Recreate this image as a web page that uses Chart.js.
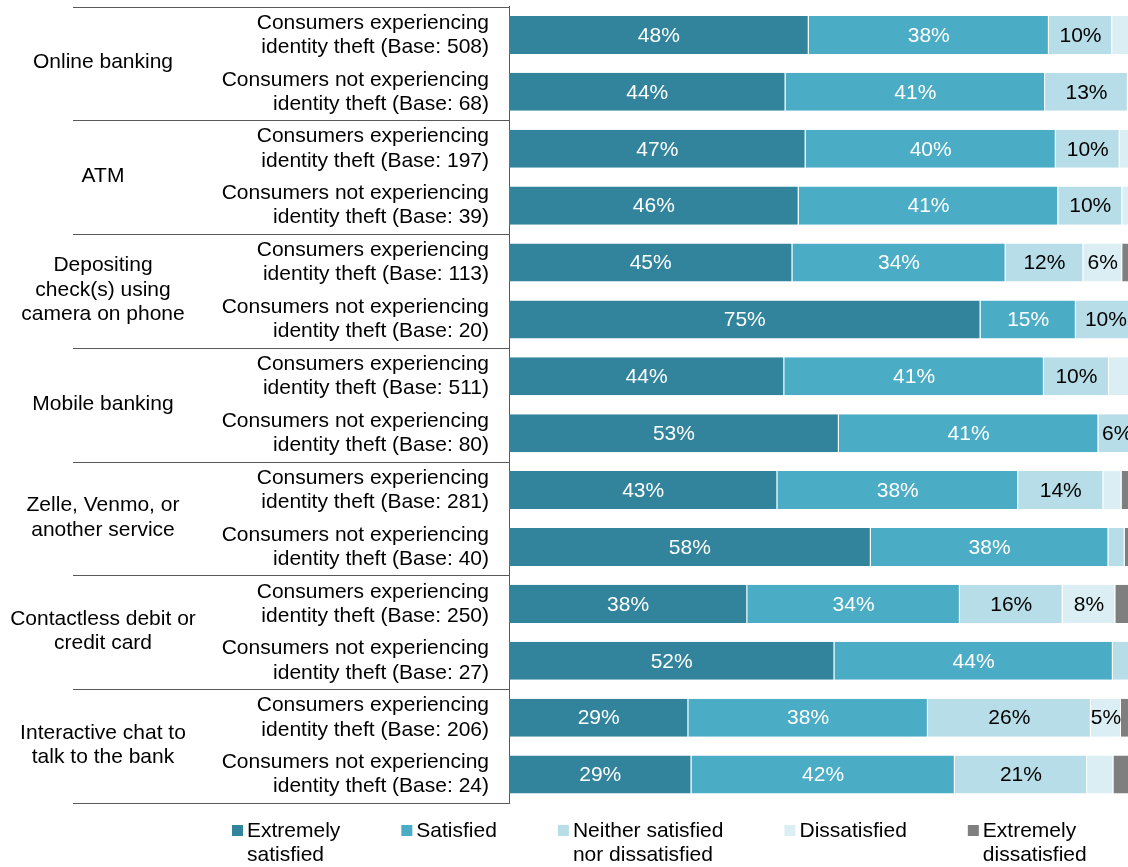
<!DOCTYPE html>
<html>
<head>
<meta charset="utf-8">
<script src="https://cdn.jsdelivr.net/npm/chart.js@4/dist/chart.umd.min.js"></script>
<style>
  html, body { margin: 0; padding: 0; background: #fff; overflow: hidden; }
  #wrap { position: relative; width: 1140px; height: 867px; }
</style>
</head>
<body>
<div id="wrap"><canvas id="chart" width="1140" height="867"></canvas></div>
<script>
// Banking channels (each has two rows: with / without identity theft)
const channels = [
  ['Online banking'],
  ['ATM'],
  ['Depositing', 'check(s) using', 'camera on phone'],
  ['Mobile banking'],
  ['Zelle, Venmo, or', 'another service'],
  ['Contactless debit or', 'credit card'],
  ['Interactive chat to', 'talk to the bank']
];

// Sample sizes: [experiencing identity theft, not experiencing identity theft]
const baseSizes = [
  [508, 68],
  [197, 39],
  [113, 20],
  [511, 80],
  [281, 40],
  [250, 27],
  [206, 24]
];

// Share of respondents (%) per row, top to bottom
const extremelySatisfied    = [47.8, 44.1, 47.3, 46.2, 45.2, 75.2, 43.9, 52.6, 42.8, 57.7, 38.0, 51.9, 28.6, 29.1];
const satisfied             = [38.3, 41.4, 39.9, 41.4, 34.0, 15.2, 41.4, 41.4, 38.4, 37.9, 33.9, 44.4, 38.2, 42.0];
const neitherSatisfied      = [10.1, 13.2, 10.2, 10.2, 12.4,  9.6, 10.4,  6.0, 13.6,  2.6, 16.4,  3.7, 26.0, 21.1];
const dissatisfied          = [ 3.8,  1.3,  2.6,  2.2,  6.2,  0.0,  4.3,  0.0,  2.9,  0.0,  8.4,  0.0,  4.8,  4.2];
const extremelyDissatisfied = [ 0.0,  0.0,  0.0,  0.0,  2.2,  0.0,  0.0,  0.0,  2.3,  1.8,  3.3,  0.0,  2.4,  3.6];

const seriesNames = ['Extremely satisfied', 'Satisfied', 'Neither satisfied nor dissatisfied', 'Dissatisfied', 'Extremely dissatisfied'];
const legendLines = [['Extremely', 'satisfied'], ['Satisfied'], ['Neither satisfied', 'nor dissatisfied'], ['Dissatisfied'], ['Extremely', 'dissatisfied']];
const seriesColors = ['#31849b', '#4bacc6', '#b7dee8', '#daeef3', '#7f7f7f'];
const labelColors = ['#ffffff', '#ffffff', '#000000', '#000000', '#000000'];
const seriesValues = [extremelySatisfied, satisfied, neitherSatisfied, dissatisfied, extremelyDissatisfied];

// Row labels built from the base sizes
const rowLabels = [];
baseSizes.forEach(([withTheft, withoutTheft]) => {
  rowLabels.push(['Consumers experiencing', 'identity theft (Base: ' + withTheft + ')']);
  rowLabels.push(['Consumers not experiencing', 'identity theft (Base: ' + withoutTheft + ')']);
});

const FONT = "'Liberation Sans', Arial, Helvetica, sans-serif";
const FONT_SIZE = 21;
const LINE_COLOR = '#595959';

// Percent labels centred in each segment (shown when the rounded value is 5% or more)
const segmentLabels = {
  id: 'segmentLabels',
  afterDatasetsDraw(chart) {
    const ctx = chart.ctx;
    ctx.save();
    ctx.font = FONT_SIZE + 'px ' + FONT;
    ctx.textAlign = 'center';
    ctx.textBaseline = 'middle';
    chart.data.datasets.forEach((ds, i) => {
      const meta = chart.getDatasetMeta(i);
      meta.data.forEach((bar, j) => {
        const v = ds.data[j];
        if (Math.round(v) < 5) return;
        ctx.fillStyle = labelColors[i];
        ctx.fillText(Math.round(v) + '%', (bar.x + bar.base) / 2, bar.y + 1);
      });
    });
    ctx.restore();
  }
};

// Channel names and the horizontal rules between channel groups
const groupAxis = {
  id: 'groupAxis',
  afterDraw(chart) {
    const ctx = chart.ctx;
    const area = chart.chartArea;
    const rowH = (area.bottom - area.top) / rowLabels.length;
    ctx.save();
    ctx.strokeStyle = LINE_COLOR;
    ctx.lineWidth = 1;
    for (let g = 0; g <= channels.length; g++) {
      const y = Math.round(area.top + g * 2 * rowH) + 0.5;
      ctx.beginPath();
      ctx.moveTo(73, y);
      ctx.lineTo(area.left, y);
      ctx.stroke();
    }
    ctx.font = FONT_SIZE + 'px ' + FONT;
    ctx.fillStyle = '#000000';
    ctx.textAlign = 'center';
    ctx.textBaseline = 'middle';
    const lh = 24.5;
    channels.forEach((lines, g) => {
      const cy = area.top + (g * 2 + 1) * rowH - 1;
      lines.forEach((t, k) => {
        ctx.fillText(t, 103, cy + (k - (lines.length - 1) / 2) * lh);
      });
    });
    ctx.restore();
  }
};

// Legend along the bottom with wrapped entries
const bottomLegend = {
  id: 'bottomLegend',
  afterDraw(chart) {
    const ctx = chart.ctx;
    ctx.save();
    ctx.font = FONT_SIZE + 'px ' + FONT;
    ctx.textAlign = 'left';
    ctx.textBaseline = 'middle';
    let x = 232;
    const y0 = 831;
    const lh = 24;
    legendLines.forEach((lines, i) => {
      ctx.fillStyle = seriesColors[i];
      ctx.fillRect(x, y0 - 6, 11, 11);
      ctx.fillStyle = '#000000';
      let widest = 0;
      lines.forEach((t, k) => {
        ctx.fillText(t, x + 15, y0 + k * lh);
        widest = Math.max(widest, ctx.measureText(t).width);
      });
      x += 15 + widest + 61;
    });
    ctx.restore();
  }
};

new Chart(document.getElementById('chart'), {
  type: 'bar',
  data: {
    labels: rowLabels,
    datasets: seriesValues.map((vals, i) => ({
      label: seriesNames[i],
      data: vals,
      backgroundColor: seriesColors[i],
      borderColor: 'rgba(255,255,255,0.45)',
      borderWidth: { top: 0, bottom: 0, left: 0, right: 1 },
      borderSkipped: false,
      barPercentage: 0.668,
      categoryPercentage: 1.0
    }))
  },
  options: {
    indexAxis: 'y',
    responsive: false,
    devicePixelRatio: 1,
    animation: false,
    layout: { padding: { top: 6.5, bottom: 64, left: 0, right: 4 } },
    plugins: {
      legend: { display: false },
      tooltip: { enabled: false }
    },
    scales: {
      x: {
        stacked: true,
        min: 0,
        max: 100,
        display: false
      },
      y: {
        stacked: true,
        grid: { display: false, drawTicks: false },
        border: { display: true, color: LINE_COLOR, width: 1 },
        ticks: {
          color: '#000000',
          padding: 20,
          font: { family: FONT, size: FONT_SIZE, lineHeight: 1.15 }
        },
        afterFit(scale) {
          scale.width = 509;
          scale.paddingTop = 0;
          scale.paddingBottom = 0;
        }
      }
    }
  },
  plugins: [segmentLabels, groupAxis, bottomLegend]
});
</script>
</body>
</html>
